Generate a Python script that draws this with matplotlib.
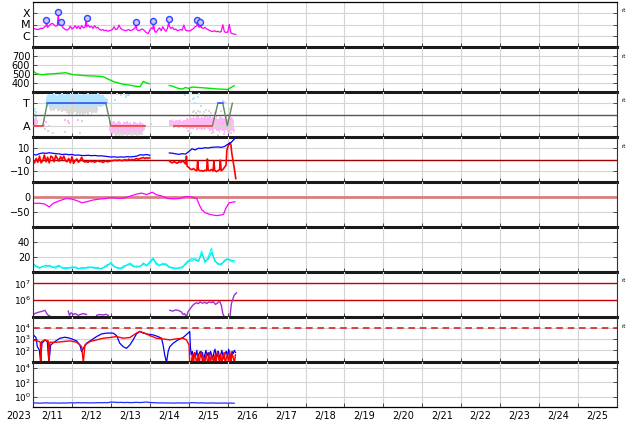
import numpy as np
import pandas as pd
import matplotlib
matplotlib.use("Agg")
import matplotlib.pyplot as plt
import matplotlib.dates as mdates
from matplotlib.ticker import NullFormatter, NullLocator, FuncFormatter

# ── time base ────────────────────────────────────────────────
T0 = pd.Timestamp("2023-02-11")
T1 = pd.Timestamp("2023-02-26")


def at(hours):
    return T0 + pd.to_timedelta(np.asarray(hours, dtype=float), unit="h")


# ── panel 1: X-ray flux (log10 W/m2), hourly from 2/11 00:00 ───
xray_log = [
    -5.35, -5.38, -5.42, -5.45, -5.40, -5.32, -5.36, -5.22, -5.15, -5.25,
    -5.10, -4.95, -4.90, -5.05, -5.15, -5.10, -5.05, -5.00, -5.20, -5.35,
    -5.45, -5.50, -5.40, -5.15, -5.40, -5.30, -5.10, -5.35, -5.15, -5.40,
    -5.10, -5.30, -5.25, -5.20, -5.05, -5.25, -5.15, -5.35, -5.10, -5.30,
    -5.25, -5.45, -5.50, -5.45, -5.55, -5.50, -5.60, -5.55, -5.50, -5.45,
    -5.20, -5.45, -5.40, -5.05, -5.35, -5.45, -5.50, -5.55, -5.50, -5.45,
    -5.55, -5.50, -5.40, -5.30, -5.45, -5.55, -5.50, -5.40, -5.45, -5.60,
    -5.75, -5.80, -5.50, -5.30, -5.40, -5.60, -5.70, -5.45, -5.30, -5.55,
    -5.20, -5.45, -5.60, -5.30, -5.15, -5.35, -5.25, -5.45, -5.40, -5.55,
    -5.50, -5.45, -5.50, -5.05, -5.50, -5.55, -5.58, -5.55, -5.45, -5.35,
    -5.20, -5.10, -5.20, -5.25, -5.30, -5.35, -5.25, -5.40, -5.45, -5.55,
    -5.60, -5.62, -5.55, -5.65, -5.60, -5.68, -5.62, -5.02, -5.65, -5.70,
    -5.68, -5.00, -5.75, -5.82, -5.85, -5.88]
flare_h = [8.2, 15.6, 17.2, 33.0, 63.6, 74.0, 83.9, 101.4, 103.2]
flare_log = [-4.60, -3.92, -4.80, -4.45, -4.80, -4.69, -4.54, -4.63, -4.80]

# ── panel 2: solar wind speed (km/s), every 2 h ──────────────
speed = [535, 505, 495, 492, 498, 500, 502, 505, 508, 510,
         515, 505, 495, 490, 488, 485, 482, 480, 478, 478,
         475, 472, 465, 445, 430, 412, 405, 392, 385, 380,
         375, 368, 362, 360, 418, 400, 392,
         np.nan, np.nan, np.nan, np.nan, np.nan,
         372, 365, 350, 338, 332, 350, 340, 355, 352, 350,
         348, 345, 342, 340, 336, 333, 332, 330, 328, 350, 370]

# ── panel 3: sector (T = +1, A = -1) ─────────────────────────
sector_h = [0, 6, 8.8, 44.9, 48, 69, 78, 86.8, 110.6, 114, 117, 119.8, 122.9]
sector_v = [-1, -1, 1, 1, -1, -1, np.nan, -1, -1, 1, 1, -1, 1]

lb_lo = [0.75, 0.7, 0.8, 0.65, 0.85, 0.7, 0.75, 0.8, 0.7, 0.65,
         0.75, 0.85, 0.7, 0.65, 0.8, 0.75, 0.6, 0.7, 0.8, 0.65,
         0.7, 0.75, 0.8, 0.7, 0.65, 0.75, 0.8, 0.7, 0.85, 0.75,
         0.7, 0.8, 0.75, 0.65, 0.7, 0.8, 0.85, 0.75, 0.9]
lb_hi = [1.6, 1.75, 1.8, 1.7, 1.85, 1.9, 1.75, 1.65, 1.8, 1.85,
         1.9, 1.7, 1.75, 1.85, 1.8, 1.9, 1.7, 1.75, 1.85, 1.8,
         1.9, 1.75, 1.7, 1.85, 1.8, 1.75, 1.9, 1.85, 1.7, 1.8,
         1.75, 1.85, 1.9, 1.8, 1.7, 1.75, 1.6, 1.5, 1.4]
pk0_lo = [-1.1, -0.9, -1.05, -0.8]
pk0_hi = [-0.35, -0.4, -0.3, -0.5]
pk1_lo = [-1.5, -1.7, -1.8, -1.65, -1.85, -1.75, -1.6, -1.8, -1.7, -1.85,
          -1.6, -1.75, -1.8, -1.7, -1.65, -1.8, -1.75, -1.6, -1.7, -1.8,
          -1.65, -1.5, -1.4]
pk1_hi = [-0.6, -0.55, -0.7, -0.6, -0.75, -0.65, -0.6, -0.7, -0.8, -0.65,
          -0.7, -0.6, -0.75, -0.7, -0.8, -0.65, -0.7, -0.75, -0.8, -0.7,
          -0.75, -0.85, -0.9]
pk2_lo = [-1.05, -1.15, -1.1, -1.2, -1.1, -1.15, -1.2, -1.1, -1.15, -1.2,
          -1.1, -1.25, -1.2, -1.3, -1.25, -1.4, -1.2, -1.35, -1.3, -1.25,
          -1.4, -1.3, -1.35, -1.2, -1.3, -1.5, -1.4, -1.6, -1.3, -1.5,
          -1.45, -1.6, -1.35, -1.5, -1.7, -1.4, -1.55, -1.6, -1.5, -1.45, -1.6]
pk2_hi = [-0.45, -0.5, -0.4, -0.55, -0.5, -0.45, -0.5, -0.4, -0.55, -0.5,
          -0.45, -0.35, -0.4, -0.2, -0.3, -0.15, -0.35, -0.25, -0.1, -0.3,
          -0.2, -0.35, -0.15, -0.3, -0.25, -0.1, -0.35, -0.2, -0.3, -0.15,
          -0.4, -0.25, -0.2, -0.35, -0.3, -0.15, -0.4, -0.3, -0.25, -0.35, -0.45]
gr1_lo = [0.45, 0.35, 0.4, 0.3, 0.5, 0.35, 0.3, 0.4, 0.25, 0.35,
          0.3, 0.1, 0.0, 0.15, -0.1, 0.05, 0.2, -0.05, 0.1, 0.0,
          0.15, -0.15, 0.05, 0.1, -0.05, 0.2, 0.0, 0.1, 0.25, 0.15, 0.3]
gr1_hi = [0.9, 0.95, 1.0, 0.9, 0.95, 0.85, 0.9, 1.0, 0.95, 0.9,
          0.85, 0.9, 0.95, 0.8, 0.85, 0.9, 0.95, 0.8, 0.9, 0.85,
          0.95, 0.9, 0.8, 0.85, 0.9, 0.95, 0.85, 0.9, 0.8, 0.85, 0.9]
gr2_lo = [-1.85, -1.9, -1.8, -1.9, -1.85, -1.9, -1.8, -1.85, -1.9, -1.8,
          -1.85, -1.9, -1.85, -1.8, -1.9, -1.85, -1.8, -1.85, -1.9]
gr2_hi = [-1.5, -1.4, -1.55, -1.45, -1.35, -1.5, -1.6, -1.4, -1.45, -1.55,
          -1.35, -1.5, -1.45, -1.6, -1.4, -1.5, -1.55, -1.45, -1.6]

gray_pts_h = [0.3, 1.0, 1.6, 12.3, 19.7, 28.9, 52, 54, 56, 57.5, 59,
              95.5, 96.5, 97.5, 98.5, 99.5, 100.5, 101, 102, 103,
              104.5, 105.5, 106.5, 107.5, 108.5, 109.5, 110.5,
              113, 116, 118, 121, 123]
gray_pts_v = [-0.1, 0.05, -0.2, -1.6, -1.55, -1.6, 1.8, 1.7, 1.85, 1.65, 1.75,
              -1.5, -1.7, -1.6, 0.2, 0.35, 0.1, -0.1, 0.3, 0.2,
              0.0, 0.25, 0.4, -0.15, 0.3, 0.1, -1.6,
              0.2, 0.35, 0.5, 0.45, -0.9]
lb_pts_h = [0.5, 1.2, 1.8, 50.5, 57.5, 58.5, 94, 96.5, 97.5, 98.5, 99, 100,
            101.5, 102.5, 103.5, 117, 117.5, 118.5]
lb_pts_v = [0.3, 0.5, 0.2, 1.3, 1.6, 1.7, 1.7, 1.2, 1.9, 1.4, 1.5, 1.0,
            1.6, 1.8, 0.8, 1.2, 1.1, 1.05]
pk_pts_h = [6.5, 7.0, 7.5, 8.0, 9.0, 10.0, 19.5, 21.7, 22.0, 28.0, 30.5,
            72.5, 112, 114, 118, 120, 122, 124]
pk_pts_v = [-0.5, -0.9, -1.3, -0.7, -1.5, -1.0, -0.45, -0.6, -0.75, -0.5, -0.55,
            -0.8, 0.1, -1.8, -1.7, 0.0, -1.6, -1.4]

# ── panel 4: IMF Bt (blue) and Bz (red), nT ──────────────────
bt1 = [4.6, 4.0, 5.2, 5.8, 5.5, 6.0, 5.6, 5.2, 5.0, 4.4,
       4.8, 4.2, 4.5, 3.8, 4.0, 3.6, 3.5, 3.8, 3.4, 3.6,
       3.2, 3.3, 3.0, 2.6, 2.2, 2.4, 2.0, 2.3, 2.1, 2.5,
       2.3, 2.6, 3.0, 4.2, 4.0, 4.4, 3.8]
bt2_h = [84, 86, 88, 90, 92, 94, 96, 98, 100, 102, 104, 106, 108, 110,
         112, 114, 116, 118, 120, 122, 124, 125]
bt2 = [5.8, 5.6, 5.0, 4.6, 5.2, 4.8, 7.0, 9.5, 8.5, 10.0, 9.8, 10.5, 10.2,
       10.8, 11.0, 11.2, 10.8, 11.5, 13.5, 15.0, 18.0, 20.0]
bz1 = [-2.0, -3.0, 1.0, -2.5, 3.0, -3.0, -1.0, 4.0, -2.0, 2.0, -3.0,
       3.0, 2.0, -2.0, 3.5, 1.0, -1.5, 2.5, 0.0, 3.0, -1.0,
       -2.0, 1.0, -3.0, 2.5, -3.4, -1.0, 0.5, -2.5, -1.0, 2.0,
       -1.5, -2.2, -1.8, -2.5, -1.2, -2.0, -1.6, -2.4, -1.8, -1.1,
       -2.0, -1.5, -2.6, -1.9, -1.4, -2.1, -1.7, -1.3, -1.0,
       -0.8, -0.5, -1.0, -0.3, -0.7, -1.1, -0.4, -0.2, -0.9, 0.3,
       -0.6, 0.1, -0.5, 0.4, 0.8, 0.2, 1.0,
       1.2, 1.8, 0.9, 1.5, 1.1, 1.6]
bz2_h = [84, 85, 86, 87, 88, 89, 90, 91, 92, 93, 94, 94.6, 95,
         96, 97, 98, 99, 100, 101, 101.5, 102, 103, 104, 105, 106, 107,
         107.5, 108, 109, 110, 111, 111.5, 112, 113, 114, 115, 115.5,
         116, 117, 118, 119, 119.5, 120, 121, 121.5, 122, 122.5, 123.5,
         124, 124.5, 125]
bz2 = [-1.2, -2.5, -3.0, -1.8, -2.8, -3.3, -2.0, -2.6, -1.5, -2.2, -4.0, 3.0, -6.0,
       -7.0, -8.5, -9.0, -8.0, -9.5, -10.0, -1.0, -9.0, -10.2, -9.8, -10.5, -9.5, -10.0,
       0.5, -9.5, -10.0, -8.8, -10.2, -1.5, -9.6, -10.8, -10.0, -9.0, -0.5,
       -10.0, -9.0, -7.0, -5.0, 8.0, 11.0, 14.0, 15.0, 13.0, 6.0, -3.0,
       -7.0, -12.0, -17.0]

# ── panel 5: Dst (nT) ────────────────────────────────────────
dst_h = [0, 4, 7, 10, 12.5, 16.5, 20.5, 24, 27, 30,
         33, 37, 41, 45, 48, 51.5, 55.5, 59.5, 64, 67,
         70, 73.5, 76, 80, 83, 86.5, 90.5, 94.5, 97.5, 101,
         102.5, 104, 106, 109, 113, 116, 117.5, 119, 121, 124.5]
dst_v = [-21, -21, -23, -33, -21, -12, -5, -7, -12, -19,
         -16, -10, -7, -5, -2, -4, -4, 2, 10, 13,
         8, 16, 8, 2, -5, -6, -5, 2, 0, -5,
         -26, -42, -52, -58, -62, -60, -57, -36, -19, -16]

# ── panel 6: density, two sources, every 2 h ─────────────────
dens_a = [9, 7, 5, 8, 6, 9, 7, 5, 8, 6, 4, 6, 5, 7, 5, 4, 6, 5, 7, 6,
          4, 5, 6, 8, 13, 8, 5, 4, 6, 10, 12, 8, 6, 8, 10, 8, 14, 19, 10, 8,
          12, 9, 6, 5, 4, 6, 5, 12, 16, 14, 18, 15, 28, 12, 20, 32, 14, 12, 9, 16,
          18, 14, 13]
dens_b = [11, 8, 6, 7, 9, 8, 6, 7, 9, 5, 6, 5, 7, 6, 4, 6, 5, 7, 6, 5,
          6, 4, 7, 10, 11, 7, 6, 5, 8, 9, 10, 7, 8, 7, 12, 9, 12, 17, 12, 9,
          10, 11, 7, 6, 5, 5, 7, 10, 14, 18, 16, 14, 24, 15, 17, 26, 16, 10, 11, 14,
          17, 16, 15]

# ── panel 7: log10 fluence (purple) ──────────────────────────
pv_h = [0, 1, 2.3, 4, 6, 7.4, 8.5, 9.5, 10.5, 16,
        21.7, 22.5, 23.5, 25, 26, 27.9, 29, 31, 33, 36,
        39.2, 41, 43, 45, 46.4, 65, 84.3, 86, 88, 90,
        91.5, 92.5, 93.5, 94.6, 95.5, 97.7, 99, 100.8, 102, 103,
        104.5, 106, 107, 108.5, 110, 111, 112.5, 114, 115, 116.1,
        117, 118, 120, 121.5, 122.3, 123, 124, 125.4]
pv_log = [5.1, 5.2, 5.25, 5.3, 5.35, 5.4, 5.2, 5.1, 5.05, np.nan,
          5.35, 5.1, 5.25, 5.15, 5.2, 5.1, 5.15, 5.2, 5.15, np.nan,
          5.1, 5.15, 5.12, 5.16, 5.1, np.nan, 5.4, 5.35, 5.42, 5.38,
          5.3, 5.15, 5.2, 5.0, 5.3, 5.6, 5.75, 5.85, 5.8, 5.9,
          5.82, 5.88, 5.8, 5.9, 5.85, 5.92, 5.75, 5.85, 5.95, 5.7,
          5.2, 5.0, np.nan, 5.1, 5.8, 6.0, 6.3, 6.44]

# ── panel 8: log10 electron flux, blue and red ───────────────
eb_h = [0.2, 1.85, 2.67, 3.9, 4.7, 5.5, 7.4, 8.8, 9.8, 10.9,
        13.5, 16.6, 19.7, 22.8, 26.9, 28.9, 30.0, 31.0, 33.0, 36.1,
        39.2, 42.3, 45.3, 49.4, 51.5, 53.5, 55.6, 57.6, 59.7, 61.7,
        63.8, 65.8, 67.9, 70.9, 74.0, 77.1, 79.2, 80.2, 81.2, 82.3,
        83.3, 84.3, 86.4, 89.4, 92.5, 95.6, 96.6, 97.0]
eb_log = [3.39, 3.15, 2.33, 2.03, 0.9, 2.64, 2.94, 2.79, 0.9, 2.48,
          2.79, 3.09, 3.18, 3.09, 2.85, 2.48, 1.88, 2.18, 2.64, 2.94,
          3.24, 3.48, 3.55, 3.55, 3.33, 2.64, 2.33, 2.18, 2.48, 2.94,
          3.48, 3.70, 3.55, 3.45, 3.39, 3.24, 3.09, 2.48, 1.58, 0.9,
          1.88, 2.33, 2.64, 2.94, 3.15, 3.55, 3.70, 2.33]
er_h = [0.2, 2.3, 3.9, 4.5, 4.9, 5.3, 7.4, 9.4, 9.8, 10.4,
        14.6, 18.7, 22.8, 26.9, 28.9, 30.0, 31.0, 32.0, 35.1, 39.2,
        43.3, 47.4, 51.5, 55.6, 59.7, 63.8, 65.8, 68.9, 72.0, 76.1,
        80.2, 84.3, 88.4, 92.5, 94.6, 96.2, 96.6]
er_log = [2.94, 2.85, 2.79, 2.73, 0.9, 2.79, 2.94, 2.85, 0.9, 2.73,
          2.73, 2.79, 2.85, 2.73, 2.48, 2.33, 0.9, 2.48, 2.79, 2.94,
          3.09, 3.15, 3.24, 3.09, 3.15, 3.55, 3.70, 3.55, 3.33, 3.09,
          3.03, 2.94, 3.03, 3.09, 2.94, 2.48, 0.9]
eb_noisy = [1.6, 1.9, 1.3, 1.8, 1.5, 2.0, 1.2, 1.7, 1.9, 1.4,
            1.8, 1.1, 1.6, 2.0, 1.5, 1.8, 1.3, 1.9, 1.6, 1.2,
            1.8, 2.1, 1.4, 1.7, 1.9, 1.3, 1.6, 2.0, 1.5, 1.2,
            1.8, 1.9, 1.4, 2.1, 1.6, 1.3, 1.9, 1.7, 2.0, 1.8]
er_noisy = [0.8, 1.6, 0.8, 1.8, 1.3, 0.8, 1.7, 0.8, 1.5, 1.9,
            0.8, 1.4, 0.8, 1.7, 1.2, 0.8, 1.8, 0.8, 1.5, 1.3,
            0.8, 1.6, 0.8, 1.9, 1.4, 0.8, 1.7, 0.8, 1.5, 1.8,
            0.8, 1.3, 1.6, 0.8, 1.9, 0.8, 1.7, 1.4, 0.8, 1.6]

# ── panel 9: log10 proton flux, every 2 h ────────────────────
ep_log = [-0.86, -0.84, -0.87, -0.85, -0.83, -0.86, -0.84, -0.85, -0.87, -0.84,
          -0.85, -0.83, -0.82, -0.84, -0.80, -0.83, -0.81, -0.84, -0.82, -0.83,
          -0.80, -0.82, -0.79, -0.81, -0.72, -0.74, -0.78, -0.76, -0.79, -0.77,
          -0.80, -0.78, -0.76, -0.79, -0.75, -0.72, -0.78, -0.80, -0.82, -0.84,
          -0.83, -0.85, -0.84, -0.86, -0.85, -0.83, -0.86, -0.84, -0.85, -0.80,
          -0.82, -0.84, -0.83, -0.85, -0.86, -0.84, -0.85, -0.87, -0.86, -0.85,
          -0.87, -0.86, -0.88]

rt_panels = [0, 1, 2, 3, 6, 7]

# ── layout ───────────────────────────────────────────────────
W, H = 634, 424
fig = plt.figure(figsize=(W / 100, H / 100), dpi=100)
axes = []
for i in range(9):
    top = 2 + 45 * i
    ax = fig.add_axes([33 / W, 1 - (top + 45) / H, 584 / W, 45 / H])
    ax.set_facecolor("none")
    axes.append(ax)

GRID = "#d4d4d4"
LB, PK, GR = "#b0e6ff", "#ffb8f4", "#dadada"

for i, ax in enumerate(axes):
    ax.set_xlim(T0, T1)
    ax.xaxis.set_major_locator(mdates.DayLocator())
    ax.xaxis.set_minor_locator(mdates.HourLocator(byhour=12))
    ax.xaxis.set_major_formatter(NullFormatter())
    if i == 8:
        ax.xaxis.set_minor_formatter(FuncFormatter(
            lambda x, pos: f"{mdates.num2date(x).month}/{mdates.num2date(x).day}"))
    else:
        ax.xaxis.set_minor_formatter(NullFormatter())
    ax.tick_params(axis="x", which="minor", length=0, labelsize=7, pad=3)
    ax.tick_params(which="major", direction="in", length=3, width=0.6,
                   right=True, labelsize=7, pad=2, colors="#333333",
                   labelcolor="black")
    ax.grid(True, which="major", color=GRID, lw=0.8)
    for s in ("left", "right"):
        ax.spines[s].set_linewidth(0.8)
        ax.spines[s].set_color("#333333")
    if i < 8:
        ax.spines["bottom"].set_linewidth(2.2)
        ax.spines["bottom"].set_color("#1a1a1a")
    else:
        ax.spines["bottom"].set_linewidth(0.9)
    if i > 0:
        ax.spines["top"].set_visible(False)
    else:
        ax.spines["top"].set_linewidth(0.9)

# panel 1 — X-ray
ax = axes[0]
ax.set_yscale("log")
ax.set_ylim(1e-7, 1e-3)
xr_h = np.concatenate([np.arange(len(xray_log)), flare_h])
xr_v = np.concatenate([xray_log, flare_log])
order = np.argsort(xr_h)
ax.plot(at(xr_h[order]), 10 ** xr_v[order], color="#ff00ff", lw=0.9)
ax.plot(at(flare_h), 10 ** np.array(flare_log), "o", ms=4.3, mfc="#c8c8ff",
        mec="#3344ff", mew=1.0, zorder=5)
ax.set_yticks([1e-4, 1e-5, 1e-6])
ax.set_yticklabels(["X", "M", "C"], fontsize=8)
ax.yaxis.set_minor_locator(NullLocator())

# panel 2 — speed
ax = axes[1]
ax.plot(at(np.arange(len(speed)) * 2), speed, color="#00e600", lw=1.0)
ax.set_ylim(300, 800)
ax.set_yticks([400, 500, 600, 700])

# panel 3 — sector
ax = axes[2]
ax.set_ylim(-2, 2)
ax.set_yticks([1, -1])
ax.set_yticklabels(["T", "A"], fontsize=8)
ax.axhline(0, color="#555555", lw=1.0, zorder=1.8)
ax.fill_between(at(np.arange(10, 41)), gr1_lo, gr1_hi, step="mid", color=GR, lw=0)
ax.fill_between(at(np.arange(8, 47)), lb_lo, lb_hi, step="mid", color=LB, lw=0)
ax.fill_between(at(np.arange(0, 4)), pk0_lo, pk0_hi, step="mid", color=PK, lw=0)
ax.fill_between(at(np.arange(47, 70)), pk1_lo, pk1_hi, step="mid", color=PK, lw=0)
ax.fill_between(at(np.arange(84, 125)), pk2_lo, pk2_hi, step="mid", color=PK, lw=0)
ax.fill_between(at(np.arange(50, 69)), gr2_lo, gr2_hi, step="mid",
                color=GR, lw=0, alpha=0.85)
ax.scatter(at(gray_pts_h), gray_pts_v, s=4, marker="s", color=GR, lw=0)
ax.scatter(at(lb_pts_h), lb_pts_v, s=4, marker="s", color=LB, lw=0)
ax.scatter(at(pk_pts_h), pk_pts_v, s=4, marker="s", color=PK, lw=0)
sv = np.array(sector_v, dtype=float)
ax.plot(at(sector_h), sv, color="#5e8a5e", lw=1.0, zorder=3)
ax.plot(at(sector_h), np.where(sv == -1, sv, np.nan), color="#ff4a4a", lw=1.2, zorder=4)
ax.plot(at(sector_h), np.where(sv == 1, sv, np.nan), color="#4a5cff", lw=1.2, zorder=4)

# panel 4 — Bt / Bz
ax = axes[3]
ax.set_ylim(-20, 20)
ax.set_yticks([10, 0, -10])
ax.axhline(0, color="#a00000", lw=1.0, zorder=1.8)
bt_h = np.concatenate([np.arange(len(bt1)) * 2, [78], bt2_h])
bt_v = np.concatenate([bt1, [np.nan], bt2])
bz_h = np.concatenate([np.arange(len(bz1)), [78], bz2_h])
bz_v = np.concatenate([bz1, [np.nan], bz2])
ax.plot(at(bz_h), bz_v, color="#ff0000", lw=1.2)
ax.plot(at(bt_h), bt_v, color="#0000ff", lw=0.9)

# panel 5 — Dst
ax = axes[4]
ax.set_ylim(-100, 50)
ax.set_yticks([0, -50])
ax.axhline(0, color="#d88080", lw=2.0, zorder=1.8)
ax.plot(at(dst_h), dst_v, color="#ff00ff", lw=0.9)

# panel 6 — density
ax = axes[5]
ax.set_ylim(0, 60)
ax.set_yticks([20, 40])
dh = np.arange(len(dens_a)) * 2
ax.plot(at(dh), dens_a, color="#00ffff", lw=0.8)
ax.plot(at(dh), dens_b, color="#00e8e8", lw=0.8)

# panel 7 — fluence
ax = axes[6]
ax.set_yscale("log")
ax.set_ylim(1e5, 10 ** 7.68)
ax.set_yticks([1e6, 1e7])
ax.yaxis.set_minor_locator(NullLocator())
ax.axhline(1e7, color="#cc0000", lw=1.0, zorder=1.8)
ax.axhline(1e6, color="#cc0000", lw=1.0, zorder=1.8)
ax.plot(at(pv_h), 10 ** np.array(pv_log), color="#a030d0", lw=1.0)

# panel 8 — electrons
ax = axes[7]
ax.set_yscale("log")
ax.set_ylim(10 ** 0.95, 1e5)
ax.set_yticks([1e2, 1e3, 1e4])
ax.yaxis.set_minor_locator(NullLocator())
ax.axhline(1e4, color="#dd3333", lw=1.3, ls=(0, (3.7, 2.6)), zorder=1.8)
noisy_h = np.arange(97.5, 125.3, 0.7)
ax.plot(at(np.concatenate([eb_h, noisy_h])),
        10 ** np.concatenate([eb_log, eb_noisy]), color="#0000ff", lw=0.9)
ax.plot(at(np.concatenate([er_h, noisy_h])),
        10 ** np.concatenate([er_log, er_noisy]), color="#ff0000", lw=1.0)

# panel 9 — protons
ax = axes[8]
ax.set_yscale("log")
ax.set_ylim(10 ** -1.4, 10 ** 4.8)
ax.set_yticks([1e0, 1e2, 1e4])
ax.yaxis.set_minor_locator(NullLocator())
ax.plot(at(np.arange(len(ep_log)) * 2), 10 ** np.array(ep_log),
        color="#2030ff", lw=0.9)

for ax in axes[6:]:
    ax.tick_params(axis="y", labelsize=6.5, pad=1.5)

for i in rt_panels:
    fig.text(622 / W, 1 - (2 + 45 * i + 9) / H, "rt", fontsize=4, va="center")
fig.text(18.5 / W, 1 - 416 / H, "2023", fontsize=7, ha="center", va="center")

fig.savefig("out.png", dpi=100)
